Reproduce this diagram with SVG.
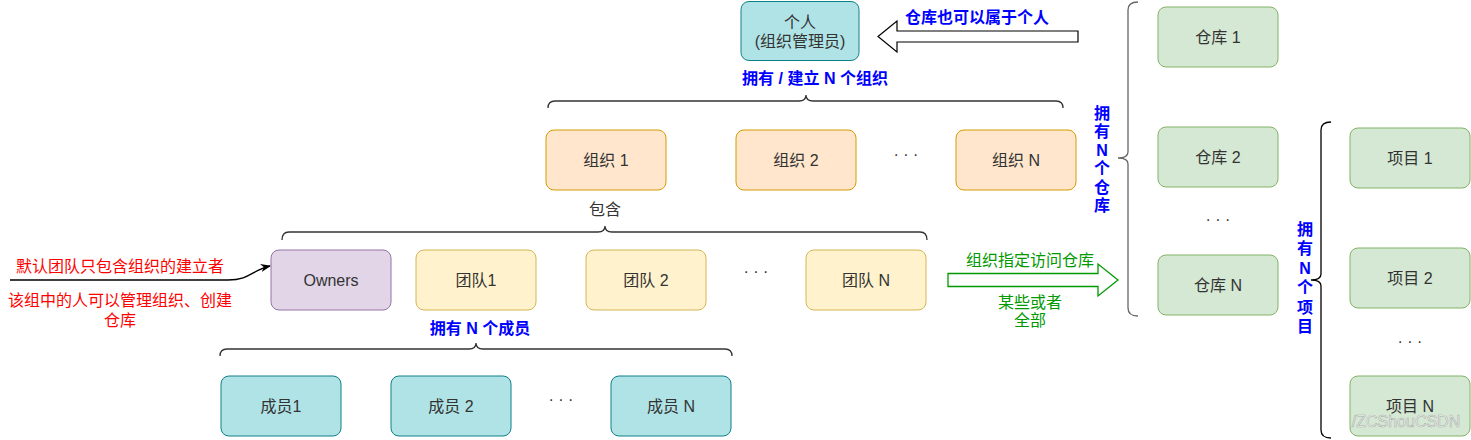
<svg xmlns="http://www.w3.org/2000/svg" width="1471" height="440" viewBox="0 0 1471 440">
<defs>
<style>
text{font-family:"Liberation Sans","Noto Sans CJK SC",sans-serif;font-size:16px;text-anchor:middle;dominant-baseline:central;fill:#333}
.teal{fill:#b0e3e6;stroke:#0e8088}
.org{fill:#ffe6cc;stroke:#d79b00}
.team{fill:#fff2cc;stroke:#d6b656}
.own{fill:#e1d5e7;stroke:#9673a6}
.grn{fill:#d5e8d4;stroke:#82b366}
.blue{fill:#0000ff;font-weight:bold}
.red{fill:#ff0000}
.gtxt{fill:#009900}
.brace{fill:none;stroke:#333;stroke-width:1.3}
</style>
<marker id="ah" viewBox="0 0 10 10" refX="9" refY="5" markerWidth="8" markerHeight="8" orient="auto"><path d="M0,1 L10,5 L0,9 L3,5 Z" fill="#000"/></marker>
</defs>
<rect width="1471" height="440" fill="#fff"/>
<g id="connectors">
<path class="brace" d="M548,108 Q548,101 555,101 L799,101 Q806,101 806,95 Q806,101 813,101 L1056,101 Q1063,101 1063,108"/>
<path class="brace" d="M282,240 Q282,232 289,232 L598,232 Q605,232 605,226 Q605,232 612,232 L920,232 Q927,232 927,240"/>
<path class="brace" d="M220,356 Q220,349 227,349 L469,349 Q476,349 476,343 Q476,349 483,349 L725,349 Q732,349 732,356"/>
<path class="brace" style="stroke:#666" d="M1138,2 Q1128,2 1128,10 L1128,152 Q1128,158 1118,158 Q1128,158 1128,164 L1128,308 Q1128,316 1138,316"/>
<path class="brace" style="stroke:#000" d="M1331,122 Q1321,122 1321,130 L1321,274 Q1321,280 1311,280 Q1321,280 1321,286 L1321,430 Q1321,438 1331,438"/>
<path d="M878,36.5 L897,21 L897,31 L1078,31 L1078,42 L897,42 L897,52 Z" fill="#fff" stroke="#000" stroke-width="1.2"/>
<path d="M948,273.5 L1098,273.5 L1098,264 L1118,280 L1098,296 L1098,286.5 L948,286.5 Z" fill="#fff" stroke="#009900" stroke-width="1.3"/>
<path d="M10,280 L228,280 C250,280 252,270 270,266" fill="none" stroke="#000" stroke-width="1.3" marker-end="url(#ah)"/>
</g>
<g id="labels">
<text class="blue" x="977" y="17">仓库也可以属于个人</text>
<text class="blue" x="815" y="78">拥有 / 建立 N 个组织</text>
<text x="605" y="209">包含</text>
<text class="blue" x="480" y="328">拥有 N 个成员</text>
<text class="red" x="120" y="266">默认团队只包含组织的建立者</text>
<text class="red" x="120" y="300">该组中的人可以管理组织、创建</text>
<text class="red" x="120" y="320">仓库</text>
<text class="gtxt" x="1030" y="260">组织指定访问仓库</text>
<text class="gtxt" x="1030" y="302">某些或者</text>
<text class="gtxt" x="1030" y="320">全部</text>
<text class="blue" x="1102" y="113">拥</text>
<text class="blue" x="1102" y="131.5">有</text>
<text class="blue" x="1102" y="150">N</text>
<text class="blue" x="1102" y="168.5">个</text>
<text class="blue" x="1102" y="187">仓</text>
<text class="blue" x="1102" y="205.5">库</text>
<text class="blue" x="1305" y="229">拥</text>
<text class="blue" x="1305" y="248.5">有</text>
<text class="blue" x="1305" y="268">N</text>
<text class="blue" x="1305" y="287.5">个</text>
<text class="blue" x="1305" y="307">项</text>
<text class="blue" x="1305" y="326.5">目</text>
<text x="906" y="154">· · ·</text>
<text x="756" y="271">· · ·</text>
<text x="561" y="399">· · ·</text>
<text x="1218" y="219">· · ·</text>
<text x="1410" y="341">· · ·</text>
</g>
<g id="person"><rect class="teal" x="741" y="1.5" width="118" height="59" rx="8"/><text x="800" y="22">个人</text><text x="800" y="41">(组织管理员)</text></g>
<g id="org1"><rect class="org" x="546" y="130" width="120" height="60" rx="8"/><text x="606" y="160">组织 1</text></g>
<g id="org2"><rect class="org" x="736" y="130" width="120" height="60" rx="8"/><text x="796" y="160">组织 2</text></g>
<g id="orgN"><rect class="org" x="956" y="130" width="120" height="60" rx="8"/><text x="1016" y="160">组织 N</text></g>
<g id="owners"><rect class="own" x="271" y="250" width="120" height="60" rx="8"/><text x="331" y="280">Owners</text></g>
<g id="team1"><rect class="team" x="416" y="250" width="120" height="60" rx="8"/><text x="476" y="280">团队1</text></g>
<g id="team2"><rect class="team" x="586" y="250" width="120" height="60" rx="8"/><text x="646" y="280">团队 2</text></g>
<g id="teamN"><rect class="team" x="806" y="250" width="120" height="60" rx="8"/><text x="866" y="280">团队 N</text></g>
<g id="member1"><rect class="teal" x="221" y="376" width="120" height="60" rx="8"/><text x="281" y="406">成员1</text></g>
<g id="member2"><rect class="teal" x="391" y="376" width="120" height="60" rx="8"/><text x="451" y="406">成员 2</text></g>
<g id="memberN"><rect class="teal" x="611" y="376" width="120" height="60" rx="8"/><text x="671" y="406">成员 N</text></g>
<g id="repo1"><rect class="grn" x="1158" y="7" width="120" height="60" rx="8"/><text x="1218" y="37">仓库 1</text></g>
<g id="repo2"><rect class="grn" x="1158" y="127" width="120" height="60" rx="8"/><text x="1218" y="157">仓库 2</text></g>
<g id="repoN"><rect class="grn" x="1158" y="255" width="120" height="60" rx="8"/><text x="1218" y="285">仓库 N</text></g>
<g id="proj1"><rect class="grn" x="1350" y="128" width="120" height="60" rx="8"/><text x="1410" y="158">项目 1</text></g>
<g id="proj2"><rect class="grn" x="1350" y="248" width="120" height="60" rx="8"/><text x="1410" y="278">项目 2</text></g>
<g id="projN"><rect class="grn" x="1350" y="376" width="120" height="60" rx="8"/><text x="1410" y="406">项目 N</text></g>
<text x="1406" y="421" style="fill:#ffffff;fill-opacity:0.7;stroke:#999999;stroke-opacity:0.8;stroke-width:0.6">/ZCShouCSDN</text>
</svg>
